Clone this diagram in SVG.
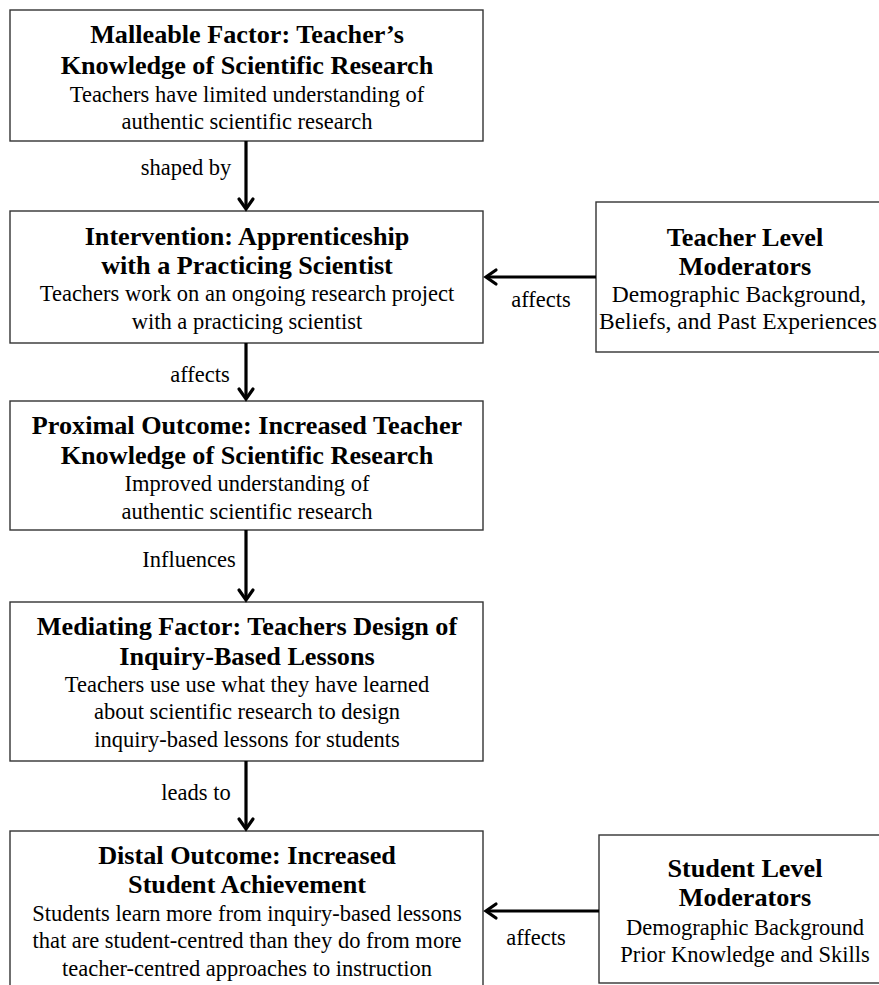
<svg xmlns="http://www.w3.org/2000/svg" width="879" height="985" viewBox="0 0 879 985">
<style>
.box{fill:#fff;stroke:#333;stroke-width:1.4}
.t{font-family:"Liberation Serif","Times New Roman",serif;font-weight:bold;font-size:26.2px;fill:#000;text-anchor:middle}
.b{font-family:"Liberation Serif","Times New Roman",serif;font-size:22.5px;fill:#000;text-anchor:middle}
.l{font-family:"Liberation Serif","Times New Roman",serif;font-size:22.5px;fill:#000;text-anchor:middle}
.c{stroke:#000;stroke-width:3.2;fill:none}
.h{stroke:#000;stroke-width:3.2;fill:none;stroke-linecap:round;stroke-linejoin:miter}
</style>
<rect width="879" height="985" fill="#fff"/>
<g id="malleable">
<rect class="box" x="10" y="10" width="473" height="131"/>
<text class="t" x="247" y="43">Malleable Factor: Teacher’s</text>
<text class="t" x="247" y="74">Knowledge of Scientific Research</text>
<text class="b" x="247" y="102">Teachers have limited understanding of</text>
<text class="b" x="247" y="129">authentic scientific research</text>
</g>
<g id="intervention">
<rect class="box" x="10" y="211" width="473" height="132"/>
<text class="t" x="247" y="245">Intervention: Apprenticeship</text>
<text class="t" x="247" y="274">with a Practicing Scientist</text>
<text class="b" x="247" y="301">Teachers work on an ongoing research project</text>
<text class="b" x="247" y="329">with a practicing scientist</text>
</g>
<g id="teacher-moderators">
<rect class="box" x="596" y="202" width="290" height="150"/>
<text class="t" x="745" y="246">Teacher Level</text>
<text class="t" x="745" y="275">Moderators</text>
<text class="b" x="739" y="302" style="font-size:23.5px">Demographic Background,</text>
<text class="b" x="738" y="329" style="font-size:23.5px">Beliefs, and Past Experiences</text>
</g>
<g id="proximal">
<rect class="box" x="10" y="401" width="473" height="129"/>
<text class="t" x="247" y="434">Proximal Outcome: Increased Teacher</text>
<text class="t" x="247" y="464">Knowledge of Scientific Research</text>
<text class="b" x="247" y="491">Improved understanding of</text>
<text class="b" x="247" y="519">authentic scientific research</text>
</g>
<g id="mediating">
<rect class="box" x="10" y="602" width="473" height="159"/>
<text class="t" x="247" y="635">Mediating Factor: Teachers Design of</text>
<text class="t" x="247" y="665">Inquiry-Based Lessons</text>
<text class="b" x="247" y="692">Teachers use use what they have learned</text>
<text class="b" x="247" y="719">about scientific research to design</text>
<text class="b" x="247" y="747">inquiry-based lessons for students</text>
</g>
<g id="distal">
<rect class="box" x="10" y="831" width="473" height="170"/>
<text class="t" x="247" y="864">Distal Outcome: Increased</text>
<text class="t" x="247" y="893">Student Achievement</text>
<text class="b" x="247" y="921">Students learn more from inquiry-based lessons</text>
<text class="b" x="247" y="948">that are student-centred than they do from more</text>
<text class="b" x="247" y="976">teacher-centred approaches to instruction</text>
</g>
<g id="student-moderators">
<rect class="box" x="599" y="835" width="290" height="148"/>
<text class="t" x="745" y="877">Student Level</text>
<text class="t" x="745" y="906">Moderators</text>
<text class="b" x="745" y="935">Demographic Background</text>
<text class="b" x="745" y="962">Prior Knowledge and Skills</text>
</g>
<g id="connectors">
<line class="c" x1="246" y1="141" x2="246" y2="209"/>
<polyline class="h" points="239,199 246,209 253,199"/>
<text class="l" x="186" y="175">shaped by</text>
<line class="c" x1="246" y1="343" x2="246" y2="399"/>
<polyline class="h" points="239,389 246,399 253,389"/>
<text class="l" x="200" y="382">affects</text>
<line class="c" x1="246" y1="530" x2="246" y2="600"/>
<polyline class="h" points="239,590 246,600 253,590"/>
<text class="l" x="189" y="567">Influences</text>
<line class="c" x1="246" y1="761" x2="246" y2="829"/>
<polyline class="h" points="239,819 246,829 253,819"/>
<text class="l" x="196" y="800">leads to</text>
<line class="c" x1="596" y1="277" x2="486" y2="277"/>
<polyline class="h" points="496,270 486,277 496,284"/>
<text class="l" x="541" y="307">affects</text>
<line class="c" x1="599" y1="911" x2="486" y2="911"/>
<polyline class="h" points="496,904 486,911 496,918"/>
<text class="l" x="536" y="945">affects</text>
</g>
</svg>
